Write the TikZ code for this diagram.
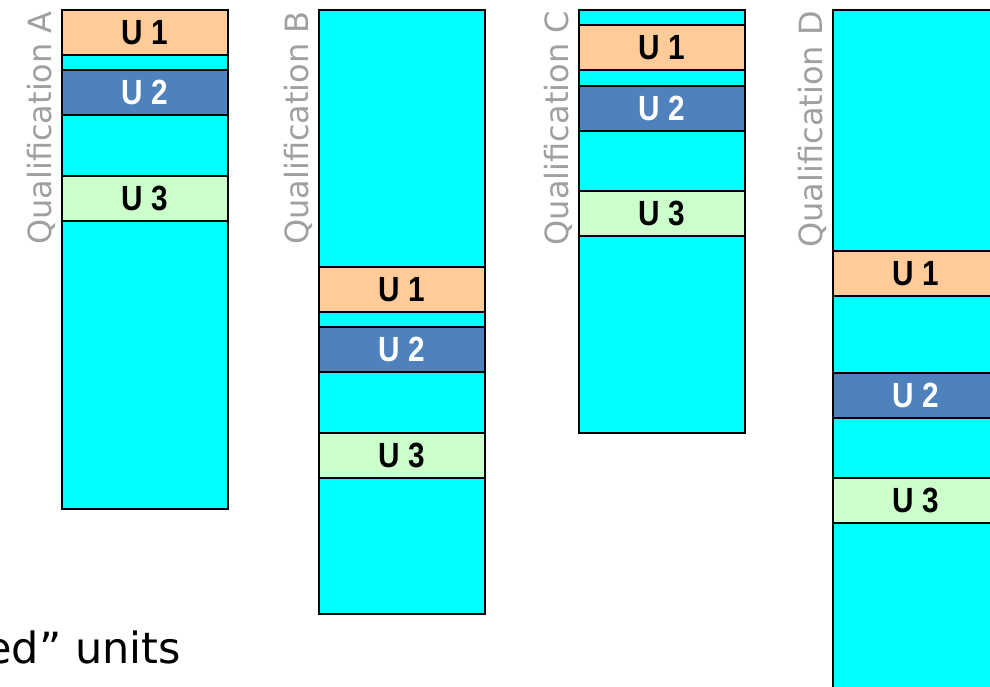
\documentclass[tikz,border=0pt]{standalone}
\usepackage{fontspec}
\newfontfamily\qualfont{DejaVu Sans}
\newfontfamily\unitfont[FakeStretch=0.85]{Liberation Sans}
\definecolor{barcyan}{HTML}{00FFFF}
\definecolor{unitpeach}{HTML}{FFCC99}
\definecolor{unitblue}{HTML}{4F81BD}
\definecolor{unitgreen}{HTML}{CCFFCC}
\definecolor{qualgrey}{HTML}{A0A0A0}
\tikzset{
  qualbar/.style={draw, line width=1.8pt, fill=barcyan, minimum width=166, inner sep=0, anchor=north west},
  unitbox/.style={draw, line width=1.8pt, minimum width=166, minimum height=45, inner sep=0, anchor=north west,
    font=\unitfont\bfseries\fontsize{35}{35}\selectfont},
  quallabel/.style={rotate=90, anchor=base east, inner sep=0, text=qualgrey, font=\qualfont\fontsize{32}{32}\selectfont}
}
\begin{document}
\begin{tikzpicture}[x=1pt, y=-1pt]
    \clip (0,0) rectangle (990,686);

    % qualification A
    \node[qualbar, minimum height=499] (qa) at (61,9) {};
    \node[unitbox, fill=unitpeach] (qa1) at (61,9) {U 1};
    \node[unitbox, fill=unitblue, text=white] (qa2) at (61,69) {U 2};
    \node[unitbox, fill=unitgreen] (qa3) at (61,175) {U 3};
    \node[quallabel] (la) at (51,11) {Qualification A};

    % qualification B
    \node[qualbar, minimum height=604] (qb) at (318,9) {};
    \node[unitbox, fill=unitpeach] (qb1) at (318,266) {U 1};
    \node[unitbox, fill=unitblue, text=white] (qb2) at (318,326) {U 2};
    \node[unitbox, fill=unitgreen] (qb3) at (318,432) {U 3};
    \node[quallabel] (lb) at (308,11) {Qualification B};

    % qualification C
    \node[qualbar, minimum height=423] (qc) at (578,9) {};
    \node[unitbox, fill=unitpeach] (qc1) at (578,24) {U 1};
    \node[unitbox, fill=unitblue, text=white] (qc2) at (578,85) {U 2};
    \node[unitbox, fill=unitgreen] (qc3) at (578,190) {U 3};
    \node[quallabel] (lc) at (568,11) {Qualification C};

    % qualification D (runs off the page)
    \node[qualbar, minimum height=700] (qd) at (832,9) {};
    \node[unitbox, fill=unitpeach] (qd1) at (832,250) {U 1};
    \node[unitbox, fill=unitblue, text=white] (qd2) at (832,372) {U 2};
    \node[unitbox, fill=unitgreen] (qd3) at (832,477) {U 3};
    \node[quallabel] (ld) at (822,11) {Qualification D};

    \node[anchor=base east, inner sep=0, font=\qualfont\fontsize{43}{43}\selectfont] (note) at (181,663) {ed” units};
\end{tikzpicture}
\end{document}
